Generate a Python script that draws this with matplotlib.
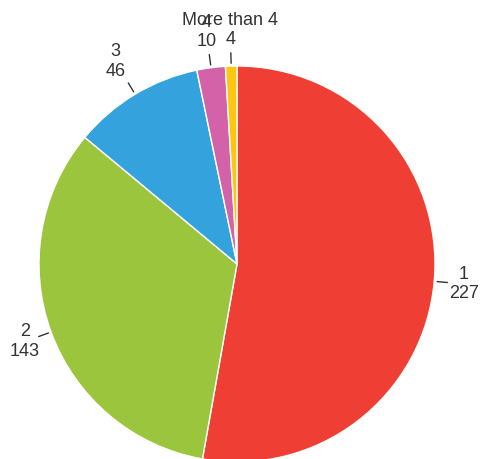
import matplotlib
matplotlib.use("Agg")
import matplotlib.pyplot as plt
import numpy as np

categories = ["1", "2", "3", "4", "More than 4"]
values = [227, 143, 46, 10, 4]
colors = ["#ef3e33", "#9bc53d", "#34a3dd", "#d462a9", "#fdc70f"]

W, H = 483, 459
cx, cy, r = 237, -264, 198

fig = plt.figure(figsize=(W / 100, H / 100), dpi=100)
ax = fig.add_axes([0, 0, 1, 1])

wedges, _ = ax.pie(values, colors=colors, startangle=90, counterclock=False,
                   center=(cx, cy), radius=r, frame=True,
                   wedgeprops=dict(edgecolor="white", linewidth=1))
ax.set_xlim(0, W)
ax.set_ylim(-H, 0)
ax.set_aspect("equal")
ax.axis("off")

# label distance from the wedge edge (px)
dist = [30, 28, 38, 36, 36]
for i, (w, cat, v) in enumerate(zip(wedges, categories, values)):
    ang = np.deg2rad((w.theta1 + w.theta2) / 2)
    dx, dy = np.cos(ang), np.sin(ang)
    x0, y0 = cx + (r + 3) * dx, cy + (r + 3) * dy
    x1, y1 = cx + (r + 13) * dx, cy + (r + 13) * dy
    ax.plot([x0, x1], [y0, y1], color="#333333", lw=1)
    tx, ty = cx + (r + dist[i]) * dx, cy + (r + dist[i]) * dy
    ax.text(tx, ty, f"{cat}\n{v}", ha="center", va="center", fontsize=13,
            family="Liberation Sans", color="#333333", linespacing=1.2)

fig.savefig("out.png", dpi=100)
